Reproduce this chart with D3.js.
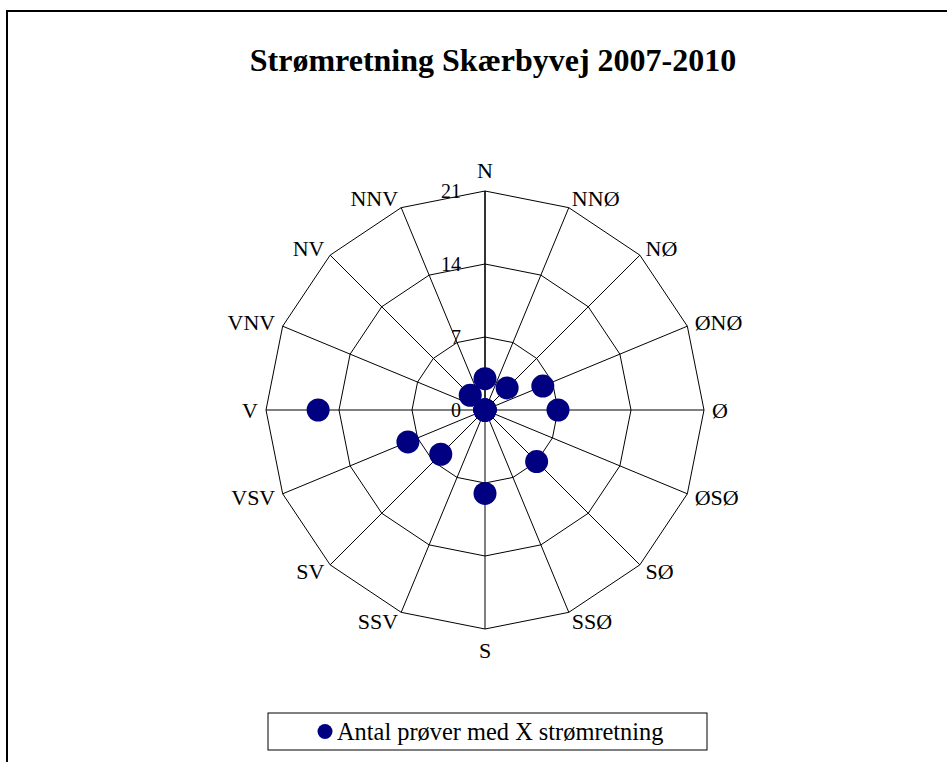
<!DOCTYPE html>
<html>
<head>
<meta charset="utf-8">
<script src="https://cdn.jsdelivr.net/npm/d3@7"></script>
<style>
  body { margin: 0; background: #fff; }
  svg { display: block; font-family: "Liberation Serif", "Times New Roman", serif; }
</style>
</head>
<body>
<svg id="chart" width="947" height="762"></svg>
<script>
// Retninger og antal prøver pr. retning
const directions = ["N", "NNØ", "NØ", "ØNØ", "Ø", "ØSØ", "SØ", "SSØ",
                    "S", "SSV", "SV", "VSV", "V", "VNV", "NV", "NNV"];
const counts = [3, 0, 3, 6, 7, 0, 7, 0, 8, 0, 6, 8, 16, 0, 2, 0];
const ringTicks = [0, 7, 14, 21];
const chartTitle = "Strømretning Skærbyvej 2007-2010";
const seriesName = "Antal prøver med X strømretning";

const cx = 485, cy = 410, outerR = 219;

const svg = d3.select("#chart");

// chart area frame (right & bottom edges fall outside the picture)
svg.append("rect")
    .attr("x", 7).attr("y", 11)
    .attr("width", 960).attr("height", 780)
    .attr("fill", "none")
    .attr("stroke", "#000")
    .attr("stroke-width", 2);

svg.append("text")
    .attr("x", 493).attr("y", 71)
    .attr("text-anchor", "middle")
    .attr("font-size", 32)
    .attr("font-weight", "bold")
    .text(chartTitle);

const r = d3.scaleLinear().domain([0, 21]).range([0, outerR]);
const angle = d3.scaleLinear().domain([0, directions.length]).range([0, 2 * Math.PI]);

function pt(i, v) {
  const a = angle(i);
  return [cx + r(v) * Math.sin(a), cy - r(v) * Math.cos(a)];
}

const g = svg.append("g");

// rings
ringTicks.filter(d => d > 0).forEach(t => {
  g.append("path")
      .attr("d", d3.line()(directions.map((d, i) => pt(i, t))) + "Z")
      .attr("fill", "none")
      .attr("stroke", "#000")
      .attr("stroke-width", 1);
});

// spokes
g.selectAll("line.spoke")
  .data(directions)
  .enter().append("line")
    .attr("class", "spoke")
    .attr("x1", cx).attr("y1", cy)
    .attr("x2", (d, i) => pt(i, 21)[0])
    .attr("y2", (d, i) => pt(i, 21)[1])
    .attr("stroke", "#000")
    .attr("stroke-width", (d, i) => i === 0 ? 1.6 : 1);

// value axis labels
g.selectAll("text.tick")
  .data(ringTicks)
  .enter().append("text")
    .attr("class", "tick")
    .attr("x", cx - 24)
    .attr("y", d => cy - r(d) + 7)
    .attr("text-anchor", "end")
    .attr("font-size", 20)
    .text(d => d);

// direction labels: top/bottom sit further out, the rest hug the vertex
function labelDy(i) {
  const c = Math.cos(angle(i)), s = Math.sin(angle(i));
  if (Math.abs(s) < 0.1) return -c * 21;
  return -c * 10;
}

g.selectAll("text.dir")
  .data(directions)
  .enter().append("text")
    .attr("class", "dir")
    .attr("x", (d, i) => pt(i, 21)[0] + Math.sin(angle(i)) * 8)
    .attr("y", (d, i) => pt(i, 21)[1] + labelDy(i) + 7.5)
    .attr("text-anchor", (d, i) => {
      const s = Math.sin(angle(i));
      return Math.abs(s) < 0.1 ? "middle" : (s > 0 ? "start" : "end");
    })
    .attr("font-size", 22)
    .text(d => d);

// markers
g.selectAll("circle.dot")
  .data(counts)
  .enter().append("circle")
    .attr("class", "dot")
    .attr("cx", (d, i) => pt(i, d)[0])
    .attr("cy", (d, i) => pt(i, d)[1])
    .attr("r", 11.5)
    .attr("fill", "#000080");

// legend
const leg = svg.append("g");
leg.append("rect")
    .attr("x", 268).attr("y", 713)
    .attr("width", 439).attr("height", 37)
    .attr("fill", "#fff")
    .attr("stroke", "#000")
    .attr("stroke-width", 1);
leg.append("circle")
    .attr("cx", 325).attr("cy", 731.5)
    .attr("r", 7.5)
    .attr("fill", "#000080");
leg.append("text")
    .attr("x", 337).attr("y", 740)
    .attr("font-size", 24.4)
    .text(seriesName);
</script>
</body>
</html>
